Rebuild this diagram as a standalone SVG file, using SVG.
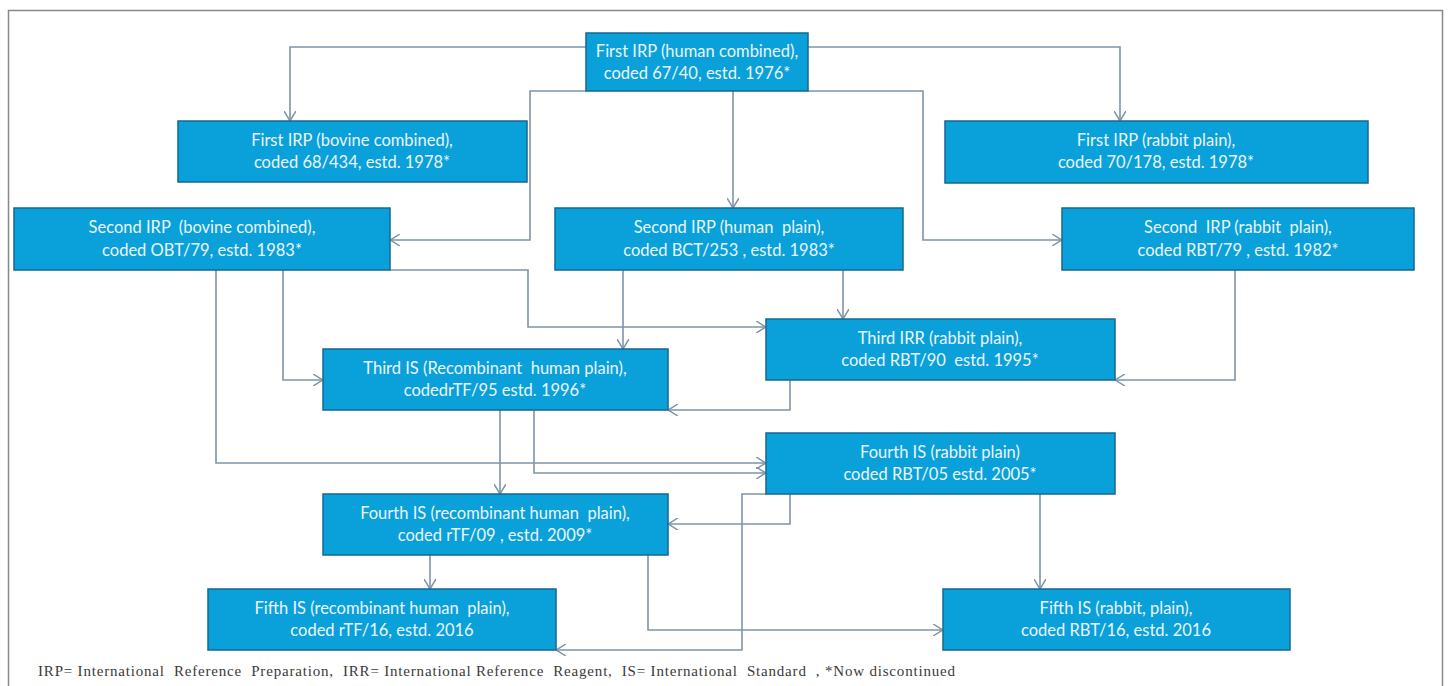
<svg xmlns="http://www.w3.org/2000/svg" width="1451" height="686" viewBox="0 0 1451 686">
<defs>
<style>
.box{fill:#0aa0da;stroke:#14688f;stroke-width:1.5}
.t{font-family:Lato,"Liberation Sans",sans-serif;font-size:16.5px;fill:#eaf6fb;text-anchor:middle;white-space:pre}
.c{fill:none;stroke:#7e95a8;stroke-width:1.6}
.fn{font-family:"Liberation Serif",serif;font-size:15px;fill:#3a3a3a;white-space:pre}
</style>
<marker id="arr" viewBox="0 0 10 12" refX="10" refY="6" markerWidth="10" markerHeight="12" orient="auto" markerUnits="userSpaceOnUse">
<path d="M0,0 L10,6 L0,12" fill="none" stroke="#7e95a8" stroke-width="1.5"/>
</marker>
</defs>
<rect x="0" y="0" width="1451" height="686" fill="#ffffff"/>
<path d="M8.5,700 V10.5 H1442.5 V700" fill="none" stroke="#888" stroke-width="1.5"/>

<g id="connectors">
<path class="c" d="M586,47 H290 V121" marker-end="url(#arr)"/>
<path class="c" d="M808,47 H1120 V121" marker-end="url(#arr)"/>
<path class="c" d="M586,91 H530 V240 H390" marker-end="url(#arr)"/>
<path class="c" d="M733,91 V208" marker-end="url(#arr)"/>
<path class="c" d="M808,91 H923 V240 H1062" marker-end="url(#arr)"/>
<path class="c" d="M216,270 V463 H766" marker-end="url(#arr)"/>
<path class="c" d="M283,270 V380 H323" marker-end="url(#arr)"/>
<path class="c" d="M390,270 H528 V327 H766" marker-end="url(#arr)"/>
<path class="c" d="M623,270 V349" marker-end="url(#arr)"/>
<path class="c" d="M843,270 V319" marker-end="url(#arr)"/>
<path class="c" d="M1235,270 V380 H1115" marker-end="url(#arr)"/>
<path class="c" d="M790,380 V410 H668" marker-end="url(#arr)"/>
<path class="c" d="M500,410 V494" marker-end="url(#arr)"/>
<path class="c" d="M534,410 V473 H766" marker-end="url(#arr)"/>
<path class="c" d="M790,494 V524 H668" marker-end="url(#arr)"/>
<path class="c" d="M1040,494 V589" marker-end="url(#arr)"/>
<path class="c" d="M766,494 H742 V650 H556" marker-end="url(#arr)"/>
<path class="c" d="M430,555 V589" marker-end="url(#arr)"/>
<path class="c" d="M648,555 V630 H943" marker-end="url(#arr)"/>
</g>

<g id="n1"><rect class="box" x="586" y="33" width="222" height="58"/>
<text class="t" x="697" y="57">First IRP (human combined),</text>
<text class="t" x="697" y="79">coded 67/40, estd. 1976*</text></g>

<g id="n2"><rect class="box" x="178" y="121" width="349" height="61"/>
<text class="t" x="352" y="146">First IRP (bovine combined),</text>
<text class="t" x="352" y="168">coded 68/434, estd. 1978*</text></g>

<g id="n3"><rect class="box" x="945" y="121" width="423" height="62"/>
<text class="t" x="1156" y="146">First IRP (rabbit plain),</text>
<text class="t" x="1156" y="168">coded 70/178, estd. 1978*</text></g>

<g id="n4"><rect class="box" x="14" y="208" width="376" height="62"/>
<text class="t" x="202" y="233">Second IRP  (bovine combined),</text>
<text class="t" x="202" y="256">coded OBT/79, estd. 1983*</text></g>

<g id="n5"><rect class="box" x="555" y="208" width="348" height="62"/>
<text class="t" x="729" y="233">Second IRP (human  plain),</text>
<text class="t" x="729" y="256">coded BCT/253 , estd. 1983*</text></g>

<g id="n6"><rect class="box" x="1062" y="208" width="352" height="62"/>
<text class="t" x="1238" y="233">Second  IRP (rabbit  plain),</text>
<text class="t" x="1238" y="256">coded RBT/79 , estd. 1982*</text></g>

<g id="n7"><rect class="box" x="766" y="319" width="349" height="61"/>
<text class="t" x="940" y="344">Third IRR (rabbit plain),</text>
<text class="t" x="940" y="366">coded RBT/90  estd. 1995*</text></g>

<g id="n8"><rect class="box" x="323" y="349" width="345" height="61"/>
<text class="t" x="495" y="374">Third IS (Recombinant  human plain),</text>
<text class="t" x="495" y="396">codedrTF/95 estd. 1996*</text></g>

<g id="n9"><rect class="box" x="766" y="433" width="349" height="61"/>
<text class="t" x="940" y="458">Fourth IS (rabbit plain)</text>
<text class="t" x="940" y="480">coded RBT/05 estd. 2005*</text></g>

<g id="n10"><rect class="box" x="323" y="494" width="345" height="61"/>
<text class="t" x="495" y="519">Fourth IS (recombinant human  plain),</text>
<text class="t" x="495" y="541">coded rTF/09 , estd. 2009*</text></g>

<g id="n11"><rect class="box" x="208" y="589" width="348" height="61"/>
<text class="t" x="382" y="614">Fifth IS (recombinant human  plain),</text>
<text class="t" x="382" y="636">coded rTF/16, estd. 2016</text></g>

<g id="n12"><rect class="box" x="943" y="589" width="347" height="61"/>
<text class="t" x="1116" y="614">Fifth IS (rabbit, plain),</text>
<text class="t" x="1116" y="636">coded RBT/16, estd. 2016</text></g>

<text class="fn" x="38" y="676" textLength="917" lengthAdjust="spacing">IRP= International  Reference  Preparation,  IRR= International Reference  Reagent,  IS= International  Standard  , *Now discontinued</text>
</svg>
